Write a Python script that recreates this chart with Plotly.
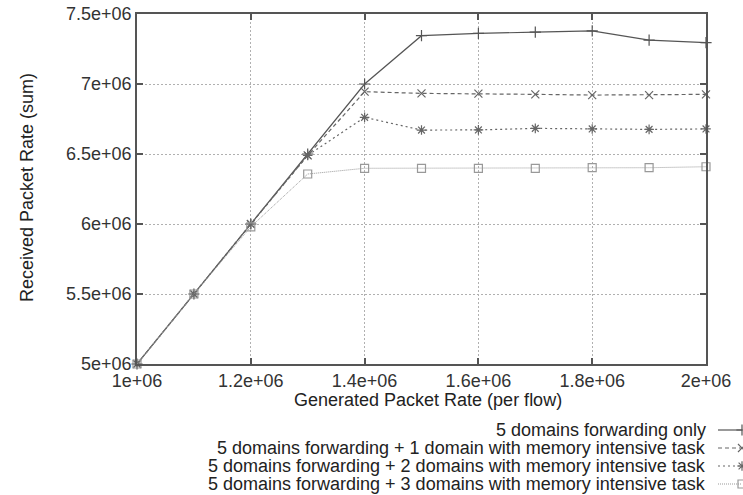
import plotly.graph_objects as go

x_vals = [1.0e6, 1.1e6, 1.2e6, 1.3e6, 1.4e6, 1.5e6, 1.6e6, 1.7e6, 1.8e6, 1.9e6, 2.0e6]
fwd_only = [5.0e6, 5.5e6, 6.0e6, 6.5e6, 7.0e6, 7.345e6, 7.362e6, 7.370e6, 7.380e6, 7.314e6, 7.295e6]
fwd_mem1 = [5.0e6, 5.5e6, 6.0e6, 6.49e6, 6.945e6, 6.933e6, 6.931e6, 6.926e6, 6.921e6, 6.921e6, 6.926e6]
fwd_mem2 = [5.0e6, 5.5e6, 6.0e6, 6.49e6, 6.762e6, 6.671e6, 6.672e6, 6.683e6, 6.679e6, 6.676e6, 6.679e6]
fwd_mem3 = [5.0e6, 5.5e6, 5.98e6, 6.357e6, 6.398e6, 6.398e6, 6.398e6, 6.398e6, 6.402e6, 6.402e6, 6.409e6]

series_names = [
    "5 domains forwarding only",
    "5 domains forwarding + 1 domain with memory intensive task",
    "5 domains forwarding + 2 domains with memory intensive task",
    "5 domains forwarding + 3 domains with memory intensive task",
]
series_values = [fwd_only, fwd_mem1, fwd_mem2, fwd_mem3]

x_ticks = [1.0e6, 1.2e6, 1.4e6, 1.6e6, 1.8e6, 2.0e6]
x_tick_labels = ["1e+06", "1.2e+06", "1.4e+06", "1.6e+06", "1.8e+06", "2e+06"]
y_ticks = [5.0e6, 5.5e6, 6.0e6, 6.5e6, 7.0e6, 7.5e6]
y_tick_labels = ["5e+06", "5.5e+06", "6e+06", "6.5e+06", "7e+06", "7.5e+06"]

styles = [
    dict(color="#555555", dash="solid", symbol="cross-thin", width=1.2),
    dict(color="#666666", dash="4px,3px", symbol="x-thin", width=1.2),
    dict(color="#666666", dash="2px,3px", symbol="asterisk", width=1.2),
    dict(color="#999999", dash="1px,1px", symbol="square-open", width=1.0),
]

W, H = 743, 495
FONT = "Liberation Sans, Arial, sans-serif"
fig = go.Figure()

for name, vals, st in zip(series_names, series_values, styles):
    fig.add_trace(go.Scatter(
        x=x_vals, y=vals, mode="lines+markers", name=name,
        line=dict(color=st["color"], dash=st["dash"], width=st["width"]),
        marker=dict(symbol=st["symbol"], size=8, color=st["color"],
                    line=dict(color=st["color"], width=1.2)),
        cliponaxis=False, showlegend=False,
    ))

# legend (gnuplot style: text right-aligned, sample at right)
legend_y = [430, 448, 466, 484]
for name, st, ly in zip(series_names, styles, legend_y):
    fig.add_trace(go.Scatter(
        x=[718, 742], y=[ly, ly], xaxis="x2", yaxis="y2",
        mode="lines", line=dict(color=st["color"], dash=st["dash"], width=st["width"]),
        showlegend=False, hoverinfo="skip", cliponaxis=False,
    ))
    fig.add_trace(go.Scatter(
        x=[742], y=[ly], xaxis="x2", yaxis="y2", mode="markers",
        marker=dict(symbol=st["symbol"], size=8, color=st["color"],
                    line=dict(color=st["color"], width=1.2)),
        showlegend=False, hoverinfo="skip", cliponaxis=False,
    ))
    fig.add_annotation(x=707 / W, y=1 - ly / H, xref="paper", yref="paper",
                       text=name, showarrow=False, xanchor="right", yanchor="middle",
                       borderpad=0,
                       font=dict(family=FONT, size=18, color="#222222"))

font = dict(family=FONT, size=18, color="#333333")
axis_common = dict(
    showgrid=True, gridcolor="#b0b0b0", griddash="2px,2px", gridwidth=1,
    showline=True, linecolor="#555555", linewidth=1.5, mirror="ticks",
    ticks="inside", ticklen=6, tickcolor="#555555", tickwidth=1.5,
    zeroline=False, tickfont=font, automargin=False,
)

fig.update_layout(
    template="none",
    width=W, height=H,
    margin=dict(l=0, r=0, t=0, b=0, pad=0, autoexpand=False),
    paper_bgcolor="white", plot_bgcolor="rgba(0,0,0,0)",
    xaxis=dict(domain=[137 / W, 706 / W], range=[1.0e6, 2.0e6],
               tickvals=x_ticks, ticktext=x_tick_labels, **axis_common),
    yaxis=dict(domain=[1 - 364 / H, 1 - 14 / H], range=[5.0e6, 7.5e6],
               tickvals=y_ticks, ticktext=y_tick_labels, **axis_common),
    xaxis2=dict(domain=[0, 1], range=[0, W], visible=False, anchor="y2", automargin=False),
    yaxis2=dict(domain=[0, 1], range=[H, 0], visible=False, anchor="x2", automargin=False),
    showlegend=False,
)

fig.add_annotation(x=428 / W, y=1 - 400 / H, xref="paper", yref="paper",
                   text="Generated Packet Rate (per flow)", showarrow=False,
                   xanchor="center", yanchor="middle", font=dict(family=FONT, size=18, color="#222222"))
fig.add_annotation(x=27 / W, y=1 - 188 / H, xref="paper", yref="paper",
                   text="Received Packet Rate (sum)", showarrow=False, textangle=-90,
                   xanchor="center", yanchor="middle", font=dict(family=FONT, size=18, color="#222222"))

fig.write_html("out.html", config={"displayModeBar": False},
               post_script="document.body.style.margin='0';document.body.style.overflow='hidden';")
